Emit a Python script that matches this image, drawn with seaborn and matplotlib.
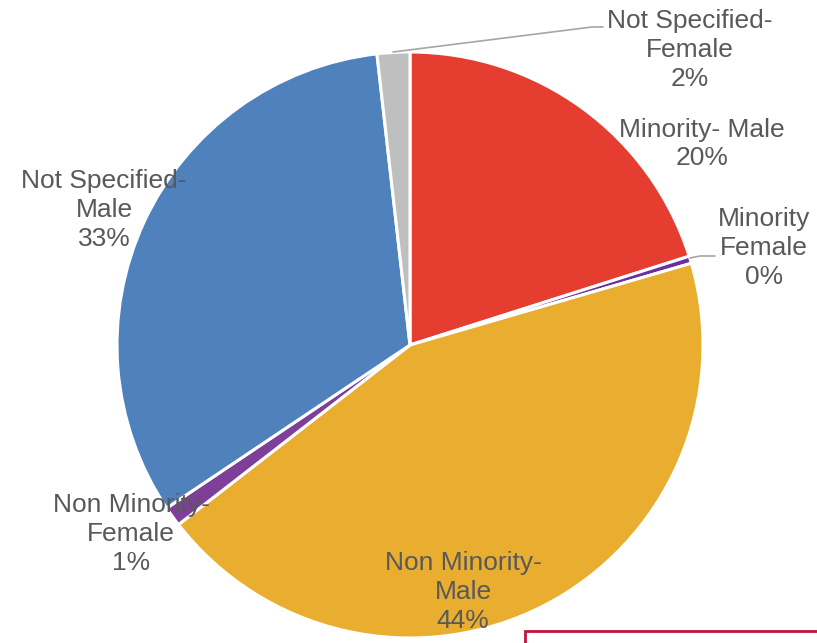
import matplotlib
matplotlib.use("Agg")
import matplotlib.pyplot as plt
import seaborn as sns
from matplotlib.patches import Rectangle

# Datos del gráfico (porcentajes)
categories = ["Minority- Male", "Minority Female", "Non Minority-Male",
              "Non Minority-Female", "Not Specified-Male", "Not Specified-Female"]
values = [20.1, 0.4, 44.0, 1.1, 32.6, 1.8]
label_texts = ["Minority- Male\n20%", "Minority\nFemale\n0%", "Non Minority-\nMale\n44%",
               "Non Minority-\nFemale\n1%", "Not Specified-\nMale\n33%", "Not Specified-\nFemale\n2%"]
colors = ["#E53E31", "#6A2FA0", "#E9AD2F", "#7E3F98", "#4F81BD", "#BFBFBF"]

sns.set_style("white")
plt.rcParams["font.family"] = ["Liberation Sans", "DejaVu Sans"]

W, H = 817, 643
fig = plt.figure(figsize=(W / 100, H / 100), dpi=100)
ax = fig.add_axes([0, 0, 1, 1])

cx, cy, r = 410, H - 345, 293
ax.pie(values, colors=colors, startangle=90, counterclock=False,
       center=(cx, cy), radius=r, frame=True,
       wedgeprops=dict(edgecolor="white", linewidth=2.2))
ax.set_xlim(0, W)
ax.set_ylim(0, H)
ax.axis("off")

# Posiciones de las etiquetas (pixeles, y desde arriba)
label_pos = [(702, 144), (764, 248), (463, 592), (131, 534), (104, 210), (690, 50)]
for txt, (x, y) in zip(label_texts, label_pos):
    ax.text(x, H - y, txt, ha="center", va="center", fontsize=19,
            color="#595959", linespacing=1.25)

# Líneas guía
lc = "#A6A6A6"
ax.plot([393, 592, 603], [H - 52, H - 27, H - 27], color=lc, lw=1.2)
ax.plot([690, 700, 715], [H - 258, H - 256, H - 256], color=lc, lw=1.2)

# Recuadro parcial abajo a la derecha
ax.add_patch(Rectangle((525, -20), 400, H - 631 + 20, fill=False,
                       edgecolor="#C0143C", lw=2, clip_on=False))

fig.savefig("out.png", dpi=100)
